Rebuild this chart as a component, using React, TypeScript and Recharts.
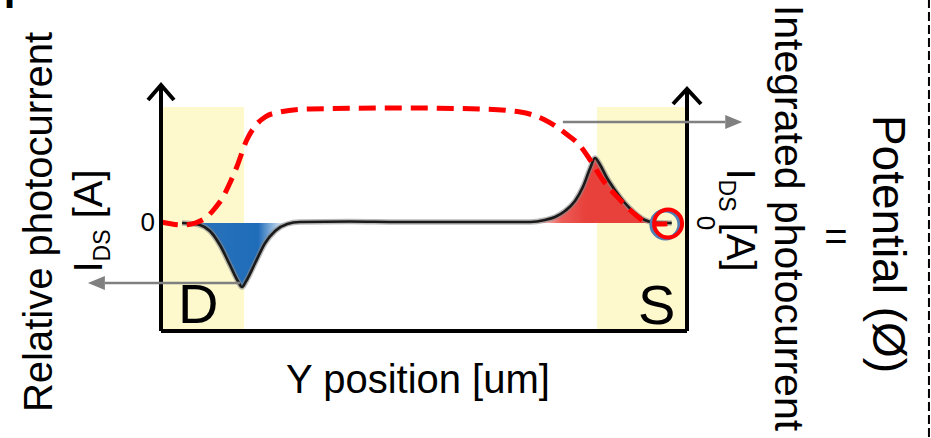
import React from 'react';
import { ComposedChart, Line, Area, XAxis, YAxis, ReferenceArea, ReferenceLine, ReferenceDot } from 'recharts';

// x = position along the channel (% of D–S length), y = relative units
const currentX = [4, 5.5, 7.4, 9.3, 11.2, 13.1, 14.6, 15.4, 16.2, 17.9, 19.8, 21.7, 24, 26.4, 35.9, 45.4, 54.9, 64.4, 70.2, 73, 74.9, 76.8, 78.7, 80.2, 81.6, 82.5, 83.5, 84.8, 86.3, 88.2, 90.1, 92, 93.9, 97.1];
const currentY = [0, -0.5, -2, -8, -22, -42, -58, -64, -58, -40, -20, -8, -1, 1, 1.5, 1, 1, 1, 1, 3, 6, 12, 22, 36, 55, 65, 58, 45, 33, 20, 10, 3, 0.5, 0];

const potentialX = [0, 4.2, 6.5, 8.7, 10.3, 11.8, 13.1, 14.4, 16.3, 17.9, 19.8, 22.6, 28.3, 45.4, 60.6, 68.3, 73, 76.8, 79.7, 81.6, 84, 87.3, 90.5, 93, 94.9, 97.7];
const potentialY = [1, -2, 0, 6, 15, 26, 40, 56, 83, 97, 106, 111, 114, 115, 114, 111, 103, 90, 77, 63, 43, 23, 7, -1, -1, 0];

const drainBand = [0.2, 15.8];
const sourceBand = [82.9, 100];
const negRange = [5.5, 24];
const posRange = [70.2, 93.9];

const current = currentX.map((x, i) => ({ x, y: currentY[i] }));
const potential = potentialX.map((x, i) => ({ x, y: potentialY[i] }));
const negLobe = current.filter((d) => d.x >= negRange[0] && d.x <= negRange[1]);
const posLobe = current.filter((d) => d.x >= posRange[0] && d.x <= posRange[1]);

const font = '"Liberation Sans", Arial, sans-serif';

// line with arrow head at the second point
const arrow = (filled: boolean, len: number, half: number) => (p: any) => {
  const { x1, y1, x2, y2, stroke, strokeWidth } = p;
  const a = Math.atan2(y2 - y1, x2 - x1);
  const bx = x2 - len * Math.cos(a);
  const by = y2 - len * Math.sin(a);
  const nx = -Math.sin(a) * half;
  const ny = Math.cos(a) * half;
  if (filled) {
    return (
      <g>
        <line x1={x1} y1={y1} x2={bx} y2={by} stroke={stroke} strokeWidth={strokeWidth} />
        <path d={`M${x2},${y2}L${bx + nx},${by + ny}L${bx - nx},${by - ny}Z`} fill={stroke} />
      </g>
    );
  }
  return (
    <g>
      <line x1={x1} y1={y1} x2={x2} y2={y2} stroke={stroke} strokeWidth={strokeWidth} />
      <path d={`M${bx + nx},${by + ny}L${x2},${y2}L${bx - nx},${by - ny}`} fill="none" stroke={stroke} strokeWidth={strokeWidth} strokeLinejoin="miter" />
    </g>
  );
};

export default function App() {
  return (
    <div style={{ position: 'absolute', left: 0, top: 0, width: 931, height: 438, background: '#fff' }}>
      <ComposedChart width={931} height={438} margin={{ top: 107, right: 244, bottom: 107, left: 161 }}>
        <defs>
          <linearGradient id="blueFill" x1="0" y1="0" x2="1" y2="0">
            <stop offset="0%" stopColor="#1f6cb9" stopOpacity={0.95} />
            <stop offset="70%" stopColor="#1f6cb9" stopOpacity={1} />
            <stop offset="100%" stopColor="#1f6cb9" stopOpacity={0} />
          </linearGradient>
          <linearGradient id="redFill" x1="0" y1="0" x2="1" y2="0">
            <stop offset="0%" stopColor="#e8403a" stopOpacity={0} />
            <stop offset="25%" stopColor="#e8403a" stopOpacity={0.85} />
            <stop offset="45%" stopColor="#e8403a" stopOpacity={1} />
            <stop offset="100%" stopColor="#e8403a" stopOpacity={1} />
          </linearGradient>
        </defs>
        <XAxis type="number" dataKey="x" domain={[0, 100]} hide />
        <YAxis type="number" domain={[-108, 116]} hide />
        <ReferenceArea x1={drainBand[0]} x2={drainBand[1]} fill="#fdf9cc" fillOpacity={1} stroke="none" />
        <ReferenceArea x1={sourceBand[0]} x2={sourceBand[1]} fill="#fdf9cc" fillOpacity={1} stroke="none" />
        <Area data={negLobe} dataKey="y" type="monotone" baseValue={0} stroke="none" fill="url(#blueFill)" fillOpacity={1} isAnimationActive={false} />
        <Area data={posLobe} dataKey="y" type="monotone" baseValue={0} stroke="none" fill="url(#redFill)" fillOpacity={1} isAnimationActive={false} />
        <Line data={current} dataKey="y" type="monotone" stroke="#8a8a8a" strokeOpacity={0.6} strokeWidth={5.5} dot={false} activeDot={false} isAnimationActive={false} />
        <Line data={current} dataKey="y" type="monotone" stroke="#1a1a1a" strokeWidth={2.6} dot={false} activeDot={false} isAnimationActive={false} />
        <Line data={potential} dataKey="y" type="monotone" stroke="#ff0000" strokeWidth={5} strokeDasharray="17 9" dot={false} activeDot={false} isAnimationActive={false} />
        <ReferenceDot x={95.9} y={-1.5} r={14} fill="none" stroke="#4f7fb5" strokeWidth={4} ifOverflow="visible" />
        <ReferenceDot x={96.4} y={-0.5} r={14} fill="none" stroke="#ff0000" strokeWidth={4} ifOverflow="visible" />
        <ReferenceLine segment={[{ x: 0, y: -108 }, { x: 100, y: -108 }]} stroke="#000" strokeWidth={4} ifOverflow="visible" />
        <ReferenceLine segment={[{ x: 0, y: -108 }, { x: 0, y: 138 }]} stroke="#000" strokeWidth={4} ifOverflow="visible" shape={arrow(false, 15, 13)} />
        <ReferenceLine segment={[{ x: 100, y: -108 }, { x: 100, y: 134 }]} stroke="#000" strokeWidth={4} ifOverflow="visible" shape={arrow(false, 15, 14)} />
        <ReferenceLine segment={[{ x: 76.4, y: 101 }, { x: 110.5, y: 101 }]} stroke="#808080" strokeWidth={2.5} ifOverflow="visible" shape={arrow(true, 17, 7)} />
        <ReferenceLine segment={[{ x: 15, y: -60 }, { x: -13.9, y: -60 }]} stroke="#808080" strokeWidth={2.5} ifOverflow="visible" shape={arrow(true, 17, 7)} />
        <ReferenceLine segment={[{ x: 146, y: 224 }, { x: 146, y: -216 }]} stroke="#000" strokeWidth={2} strokeDasharray="9 4" ifOverflow="visible" />
      </ComposedChart>
      <svg width={931} height={438} style={{ position: 'absolute', left: 0, top: 0, pointerEvents: 'none' }} fontFamily={font}>
        <text x={4} y={8} fontSize={40} fontWeight="bold">F</text>
        <text transform="translate(52,222) rotate(-90)" textAnchor="middle" fontSize={40}>Relative photocurrent</text>
        <text transform="translate(102,221) rotate(-90)" textAnchor="middle" fontSize={40}>
          I<tspan fontSize={23} dy={8}>DS</tspan><tspan dy={-8}> [A]</tspan>
        </text>
        <text x={155} y={231} textAnchor="end" fontSize={26}>0</text>
        <text x={178} y={323} fontSize={56}>D</text>
        <text x={638} y={324} fontSize={56}>S</text>
        <text x={418} y={393} textAnchor="middle" fontSize={40}>Y position [um]</text>
        <text transform="translate(697,223) rotate(90)" textAnchor="middle" fontSize={26}>0</text>
        <text transform="translate(727,220) rotate(90)" textAnchor="middle" fontSize={40}>
          I<tspan fontSize={23} dy={8}>DS</tspan><tspan dy={-8}> [A]</tspan>
        </text>
        <text transform="translate(775,218) rotate(90)" textAnchor="middle" fontSize={41}>Integrated photocurrent</text>
        <text x={836} y={250} textAnchor="middle" fontSize={40}>=</text>
        <text transform="translate(873,244) rotate(90)" textAnchor="middle" fontSize={46}>Potential (Ø)</text>
      </svg>
    </div>
  );
}
